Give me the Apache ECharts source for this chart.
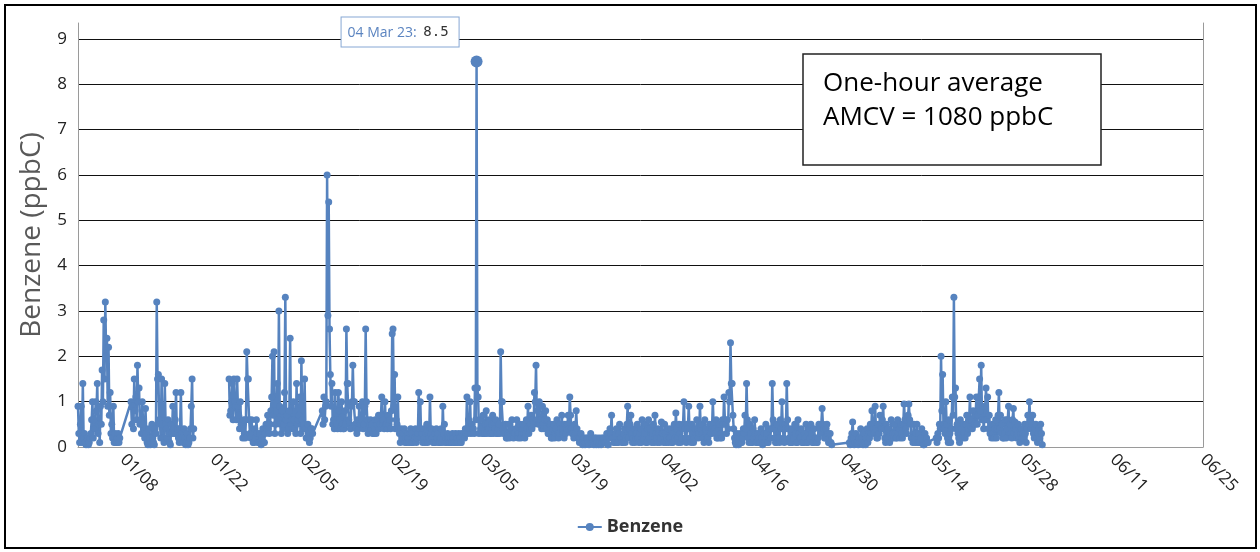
<!DOCTYPE html>
<html><head><meta charset="utf-8">
<script src="https://cdn.jsdelivr.net/npm/echarts@6/dist/echarts.min.js"></script>
<style>html,body{margin:0;padding:0;background:#fff}#c{width:1260px;height:552px}</style>
</head><body><div id="c"></div>
<script>
// ---- data (ppbC): readings every 6 h, plus the in-between readings (+3 h) in the *Mid arrays ----
const seriesName = 'Benzene';
const stepHours = 6;
const seg1Start = '2023-01-01T00:00Z';
const seg1 = [0.9,0.1,0.9,1.4, 0.3,0.05,0.2,0.1, 0.3,1.0,0.6,1.0, 1.4,0.5,0.9,1.7, 2.8,3.2,2.4,2.2, 1.2,0.5,0.9,0.3, 0.1,0.3,0.2];
const seg1Mid = [0.3,0.5,0.1,0.2, 0.1,0.2,0.05,0.2, 0.6,0.2,0.4,0.8, 0.3,0.1,0.5,1.0, 1.5,2.0,0.9,0.7, 0.3,0.2,0.1,0.1, 0.2,0.1];
const seg2Start = '2023-01-09T06:00Z';
const seg2 = [1.0,0.9,1.5,1.1, 1.8,1.3,0.6,1.0, 0.3,0.85,0.1,0.4, 0.05,0.5,0.1,0.4, 3.2,1.6,0.5,1.5, 0.2,1.4,0.4,0.6, 0.1,0.5,0.9,0.3, 1.2,0.4,0.1,1.2, 0.2,0.4,0.05,0.3, 0.1,0.4,1.5,0.4];
const seg2Mid = [0.5,0.4,0.8,0.6, 1.0,0.5,0.3,0.5, 0.2,0.3,0.05,0.2, 0.1,0.2,0.05,0.3, 1.5,0.6,0.2,0.5, 0.1,0.5,0.2,0.3, 0.05,0.3,0.4,0.6, 0.3,0.2,0.4,0.3, 0.1,0.2,0.1,0.05, 0.2,0.9,0.2];
const seg3Start = '2023-01-24T12:00Z';
const seg3 = [1.5,0.8,1.4,1.5, 0.9,1.5,0.7,1.0, 0.4,0.6,0.2,2.1, 1.5,0.3,0.6,0.1, 0.4,0.6,0.1,0.3, 0.05,0.4,0.1,0.5, 0.7,0.3,0.8,2.0, 2.1,0.5,1.4,3.0, 0.5,0.8,0.5,3.3, 0.7,0.4,2.4,0.6, 1.0,0.4,1.4,0.6, 1.1,1.9,0.4,1.5, 0.2,0.5,0.1,0.4, 0.3];
const seg3Mid = [0.7,1.0,0.6,1.0, 0.6,0.9,0.4,0.5, 0.2,0.3,0.6,1.5, 0.6,0.2,0.3,0.1, 0.2,0.3,0.1,0.1, 0.2,0.1,0.3,0.4, 0.4,0.5,1.1,0.7, 0.3,0.8,0.6,0.9, 0.3,0.4,1.2,0.6, 0.3,0.8,0.5,0.4, 0.6,0.3,0.5,0.7, 0.3,0.6,0.5,0.4, 0.2,0.3,0.2,0.4];
const seg4Start = '2023-02-08T00:00Z';
const seg4 = [
 0.8,1.1,0.9,6.0, 5.4,1.6,1.4,0.6, 1.2,0.5,1.2,0.6, 1.0,0.4,0.8,2.6, 1.4,0.5,0.9,1.8,
 1.0,0.4,0.6,0.9, 0.5,1.0,0.5,2.6, 0.6,0.4,0.6,0.5, 0.3,0.6,0.5,0.7, 0.5,1.1,0.6,1.0,
 0.5,0.7,0.6,0.8, 2.6,1.6,0.6,1.1, 0.3,0.4,0.2,0.4, 0.2,0.3,0.1,0.4, 0.3,0.2,0.4,0.2,
 1.2,1.0,0.3,0.4, 0.1,0.5,0.3,1.1, 0.4,0.1,0.3,0.4, 0.3,0.1,0.4,0.9, 0.5,0.2,0.3,0.1,
 0.2,0.3,0.1,0.3, 0.2,0.3,0.1,0.3, 0.3,0.4,1.1,0.6, 1.0,0.5,0.4,1.3, 8.5,1.1,0.6,0.4,
 0.7,0.3,0.8,0.5, 0.6,0.3,0.7,0.5, 0.6,0.3,0.5,2.1, 1.0,0.3,0.5,0.2, 0.5,0.3,0.6,0.2,
 0.3,0.6,0.2,0.5, 0.3,0.5,0.2,0.6, 0.9,0.4,0.7,0.6, 1.2,1.8,0.8,1.0, 0.6,0.9,0.4,0.8,
 0.6,0.3,0.5,0.2, 0.5,0.3,0.6,0.2, 0.5,0.7,0.3,0.5, 0.4,0.7,1.1,0.4, 0.3,0.5,0.8,0.2,
 0.1,0.3,0.05,0.2, 0.1,0.2,0.05,0.3, 0.2,0.05,0.2,0.1, 0.05,0.2,0.1,0.2, 0.1,0.3,0.05,0.4,
 0.7,0.2,0.1,0.4, 0.1,0.5,0.2,0.1, 0.4,0.2,0.9,0.4, 0.7,0.1,0.4,0.2, 0.5,0.1,0.4,0.6,
 0.2,0.5,0.1,0.6, 0.4,0.1,0.5,0.7, 0.2,0.4,0.1,0.55, 0.3,0.5,0.1,0.4, 0.2,0.4,0.1,0.5,
 0.75,0.2,0.5,0.1, 0.4,1.0,0.2,0.5, 0.9,0.2,0.5,0.1, 0.4,0.6,0.2,0.9, 0.5,0.2,0.6,0.3,
 0.2,0.5,0.3,1.0, 0.4,0.6,0.2,0.5, 0.3,0.6,1.1,0.5, 0.6,1.2,2.3,1.4, 0.4,0.1,0.3,0.05,
 0.3,0.1,0.4,0.7, 1.4,0.2,0.5,0.1, 0.4,0.6,0.1,0.3, 0.1,0.4,0.05,0.3, 0.5,0.1,0.4,0.2,
 1.4,0.4,0.1,0.5, 0.2,0.6,1.0,0.2, 0.5,1.4,0.4,0.1, 0.4,0.2,0.5,0.1, 0.6,0.2,0.4,0.1,
 0.3,0.5,0.1,0.4, 0.5,0.1,0.4,0.2, 0.1,0.5,0.3,0.85, 0.4,0.2,0.5,0.1, 0.3,0.05];
const seg4Mid = [
 0.5,0.6,1.0,2.9, 2.6,0.9,0.5,0.4, 0.6,0.4,0.8,0.4, 0.5,0.4,0.5,1.4, 0.6,0.4,1.0,1.0,
 0.5,0.3,0.4,0.5, 0.6,0.4,0.9,1.0, 0.3,0.5,0.4,0.3, 0.4,0.3,0.6,0.4, 0.7,0.5,0.4,0.5,
 0.4,0.5,0.4,2.5, 0.9,0.4,0.5,0.4, 0.1,0.2,0.3,0.1, 0.1,0.2,0.3,0.1, 0.1,0.2,0.1,0.3,
 0.4,0.2,0.1,0.2, 0.3,0.1,0.2,0.3, 0.2,0.1,0.1,0.2, 0.1,0.2,0.1,0.3, 0.1,0.1,0.2,0.1,
 0.1,0.2,0.1,0.1, 0.1,0.2,0.1,0.2, 0.2,0.3,0.3,0.4, 0.3,0.4,0.3,0.6, 1.3,0.3,0.4,0.3,
 0.3,0.5,0.3,0.4, 0.3,0.5,0.3,0.4, 0.3,0.4,0.3,1.0, 0.4,0.3,0.2,0.3, 0.2,0.4,0.3,0.3,
 0.4,0.3,0.3,0.2, 0.4,0.3,0.3,0.4, 0.3,0.5,0.4,0.5, 1.0,0.6,0.5,0.5, 0.4,0.5,0.6,0.4,
 0.3,0.5,0.2,0.4, 0.2,0.4,0.3,0.3, 0.4,0.4,0.2,0.3, 0.5,0.4,0.7,0.3, 0.2,0.3,0.4,0.2,
 0.2,0.1,0.2,0.05, 0.2,0.1,0.2,0.1, 0.1,0.2,0.05,0.2, 0.1,0.05,0.2,0.1, 0.1,0.05,0.2,0.3,
 0.2,0.1,0.3,0.1, 0.3,0.2,0.1,0.3, 0.1,0.5,0.2,0.5, 0.3,0.2,0.1,0.3, 0.2,0.3,0.1,0.2,
 0.3,0.1,0.4,0.2, 0.2,0.3,0.1,0.3, 0.1,0.3,0.2,0.3, 0.1,0.3,0.2,0.1, 0.2,0.1,0.3,0.2,
 0.4,0.1,0.3,0.2, 0.5,0.4,0.1,0.4, 0.4,0.1,0.3,0.2, 0.2,0.4,0.3,0.4, 0.3,0.1,0.4,0.2,
 0.1,0.3,0.4,0.5, 0.3,0.2,0.4,0.2, 0.2,0.5,0.6,0.3, 0.4,1.0,1.4,0.7, 0.2,0.05,0.2,0.1,
 0.1,0.2,0.3,0.4, 0.6,0.1,0.3,0.1, 0.2,0.3,0.1,0.2, 0.1,0.2,0.1,0.1, 0.3,0.1,0.2,0.4,
 0.6,0.2,0.1,0.2, 0.1,0.4,0.5,0.1, 0.4,0.6,0.2,0.1, 0.1,0.2,0.3,0.1, 0.3,0.2,0.1,0.1,
 0.2,0.1,0.3,0.2, 0.3,0.1,0.2,0.1, 0.2,0.4,0.5,0.5, 0.2,0.4,0.3,0.1, 0.1];
const seg5Start = '2023-05-01T00:00Z';
const seg5 = [0.1,0.2,0.55,0.05, 0.3,0.1,0.2,0.4, 0.1,0.3,0.05,0.4, 0.3,0.5,0.8,0.4, 0.9,0.2,0.5,0.7, 0.4,0.9,0.2,0.5, 0.4,0.1,0.6,0.3, 0.5,0.2,0.6,0.4, 0.5,0.2,0.95,0.4, 0.6,0.95,0.5,0.2, 0.5,0.1,0.5,0.3, 0.1,0.4,0.05,0.3, 0.2,0.1];
const seg5Mid = [0.05,0.3,0.2,0.1, 0.1,0.05,0.1,0.2, 0.05,0.1,0.2,0.1, 0.2,0.3,0.5,0.3, 0.4,0.2,0.3,0.4, 0.6,0.4,0.1,0.2, 0.2,0.3,0.2,0.2, 0.3,0.2,0.3,0.2, 0.3,0.5,0.6,0.3, 0.7,0.6,0.2,0.1, 0.2,0.3,0.1,0.1, 0.2,0.1,0.05,0.1, 0.1];
const seg6Start = '2023-05-14T12:00Z';
const seg6 = [0.2,0.3, 0.5,2.0,1.6,0.4, 1.0,0.2,0.6,0.1, 1.1,3.3,1.3,0.5, 0.2,0.6,0.4,0.5, 0.2,0.7,0.4,1.1, 0.6,0.8,0.5,1.1, 0.7,1.5,1.8,0.9, 0.6,1.3,1.1,0.7, 0.3,0.5,0.2,0.6, 0.4,1.2,0.7,0.5, 0.2,0.6,0.4,0.9, 0.5,0.2,0.85,0.55, 0.2,0.5,0.1,0.4, 0.3,0.5,0.1,0.7, 1.0,0.4,0.7,0.2, 0.5,0.1,0.4,0.5, 0.05];
const seg6Mid = [0.1,0.2,0.4,0.8,0.5,0.3, 0.5,0.1,0.3,0.4,0.7,1.1,0.4,0.3, 0.1,0.3,0.2,0.3, 0.5,0.3,0.6,0.4, 0.4,0.5,0.7,0.5, 1.1,0.8,0.6,0.4, 0.9,0.6,0.4,0.3, 0.2,0.3,0.4,0.2, 0.7,0.4,0.3,0.2, 0.3,0.2,0.6,0.3, 0.3,0.6,0.3,0.4, 0.3,0.2,0.3,0.2, 0.2,0.3,0.4,0.5, 0.6,0.5,0.3,0.4, 0.2,0.3,0.2,0.3];
// a data outage (no line drawn) precedes segment 3
const segBreakBefore = [false, false, true, false, false, false];
const xTickLabels = ['01/08','01/22','02/05','02/19','03/05','03/19','04/02','04/16','04/30','05/14','05/28','06/11','06/25'];
const tickYear = 2023;
const xStart = '2023-01-01T00:00Z';
const xEnd = '2023-06-25T00:00Z';
const noteLines = ['One-hour average', 'AMCV = 1080 ppbC'];

// ---- build ----
const STEP = stepHours * 3600 * 1000;
const segs = [[seg1Start, seg1, seg1Mid],[seg2Start, seg2, seg2Mid],[seg3Start, seg3, seg3Mid],[seg4Start, seg4, seg4Mid],[seg5Start, seg5, seg5Mid],[seg6Start, seg6, seg6Mid]];
const data = [];
segs.forEach(([s, vals, mids], k) => {
  const t0 = Date.parse(s);
  if (segBreakBefore[k]) data.push([t0 - STEP, null]);
  vals.forEach((v, i) => {
    data.push([t0 + i * STEP, v]);
    if (i < mids.length) data.push([t0 + i * STEP + STEP / 2, mids[i]]);
  });
});
const tickValues = xTickLabels.map(l => { const [m, d] = l.split('/').map(Number); return Date.UTC(tickYear, m - 1, d); });
let peak = null;
data.forEach(p => { if (p[1] != null && (!peak || p[1] > peak[1])) peak = p; });
const MON = ['Jan','Feb','Mar','Apr','May','Jun','Jul','Aug','Sep','Oct','Nov','Dec'];
const pd = new Date(peak[0]);
const peakText = String(pd.getUTCDate()).padStart(2,'0') + ' ' + MON[pd.getUTCMonth()] + ' ' + String(pd.getUTCFullYear()).slice(2) + ':';

const blue = '#5683bf';
const font = "'Open Sans', sans-serif";
const chart = echarts.init(document.getElementById('c'));
chart.setOption({
  animation: false,
  backgroundColor: '#fff',
  grid: { left: 78, right: 57, top: 23, bottom: 105 },
  xAxis: {
    type: 'value', min: Date.parse(xStart), max: Date.parse(xEnd),
    axisLine: { show: true, lineStyle: { color: '#9a9a9a', width: 1 } },
    axisTick: { show: false },
    splitLine: { show: false },
    axisLabel: {
      customValues: tickValues, rotate: -45, margin: 10,
      fontFamily: font, fontSize: 17, color: '#222',
      formatter: v => { const i = tickValues.indexOf(v); return i >= 0 ? xTickLabels[i] : ''; }
    }
  },
  yAxis: [{
    type: 'value', min: 0, max: 9.35, interval: 1,
    name: 'Benzene (ppbC)', nameLocation: 'middle', nameGap: 30, nameRotate: 90,
    nameTextStyle: { fontFamily: font, fontSize: 28, color: '#595959' },
    axisLine: { show: true, lineStyle: { color: '#9a9a9a', width: 1 } },
    axisTick: { show: false },
    splitLine: { show: true, showMinLine: false, showMaxLine: false, lineStyle: { color: '#111', width: 1 } },
    axisLabel: { fontFamily: font, fontSize: 17, color: '#222', margin: 11, showMaxLabel: false,
      formatter: v => Number.isInteger(v) ? String(v) : '' }
  }, {
    type: 'value', min: 0, max: 9.35, interval: 1, position: 'right',
    axisLine: { show: true, lineStyle: { color: '#9a9a9a', width: 1 } },
    axisTick: { show: false }, axisLabel: { show: false }, splitLine: { show: false }
  }],
  legend: {
    data: [seriesName], bottom: 11, left: 'center', itemWidth: 24, itemHeight: 10, itemGap: 8,
    textStyle: { fontFamily: font, fontSize: 18, fontWeight: 'bold', color: '#333' }
  },
  series: [{
    name: seriesName, type: 'line', data: data, yAxisIndex: 0,
    symbol: 'circle', symbolSize: 7, showSymbol: true, sampling: null,
    lineStyle: { color: blue, width: 2.5 }, itemStyle: { color: blue },
    emphasis: { disabled: true },
    markPoint: {
      silent: true,
      data: [{ coord: [peak[0], peak[1]], value: peak[1], symbol: 'circle', symbolSize: 12, itemStyle: { color: blue } }],
      label: {
        show: true, position: [-129, -38],
        formatter: p => '{d|' + peakText + '}  {v|' + p.value + '}',
        backgroundColor: '#fff', borderColor: '#86a7d4', borderWidth: 1, padding: [8, 10, 7, 6],
        rich: {
          d: { fontFamily: font, fontSize: 14, color: '#5b84c0' },
          v: { fontFamily: "'DejaVu Sans Mono', monospace", fontSize: 14, color: '#333' }
        }
      }
    }
  }],
  graphic: [
    { type: 'rect', shape: { x: 5, y: 5, width: 1251, height: 543 }, style: { fill: 'none', stroke: '#000', lineWidth: 2 }, z: 100 },
    { type: 'rect', shape: { x: 803, y: 54, width: 298, height: 111 }, style: { fill: '#fff', stroke: '#222', lineWidth: 1.5 }, z: 100 },
    { type: 'text', x: 823, y: 67, style: { text: noteLines.join('\n'), fontFamily: font, fontSize: 26, lineHeight: 34, fill: '#000' }, z: 101 }
  ]
});
</script></body></html>
